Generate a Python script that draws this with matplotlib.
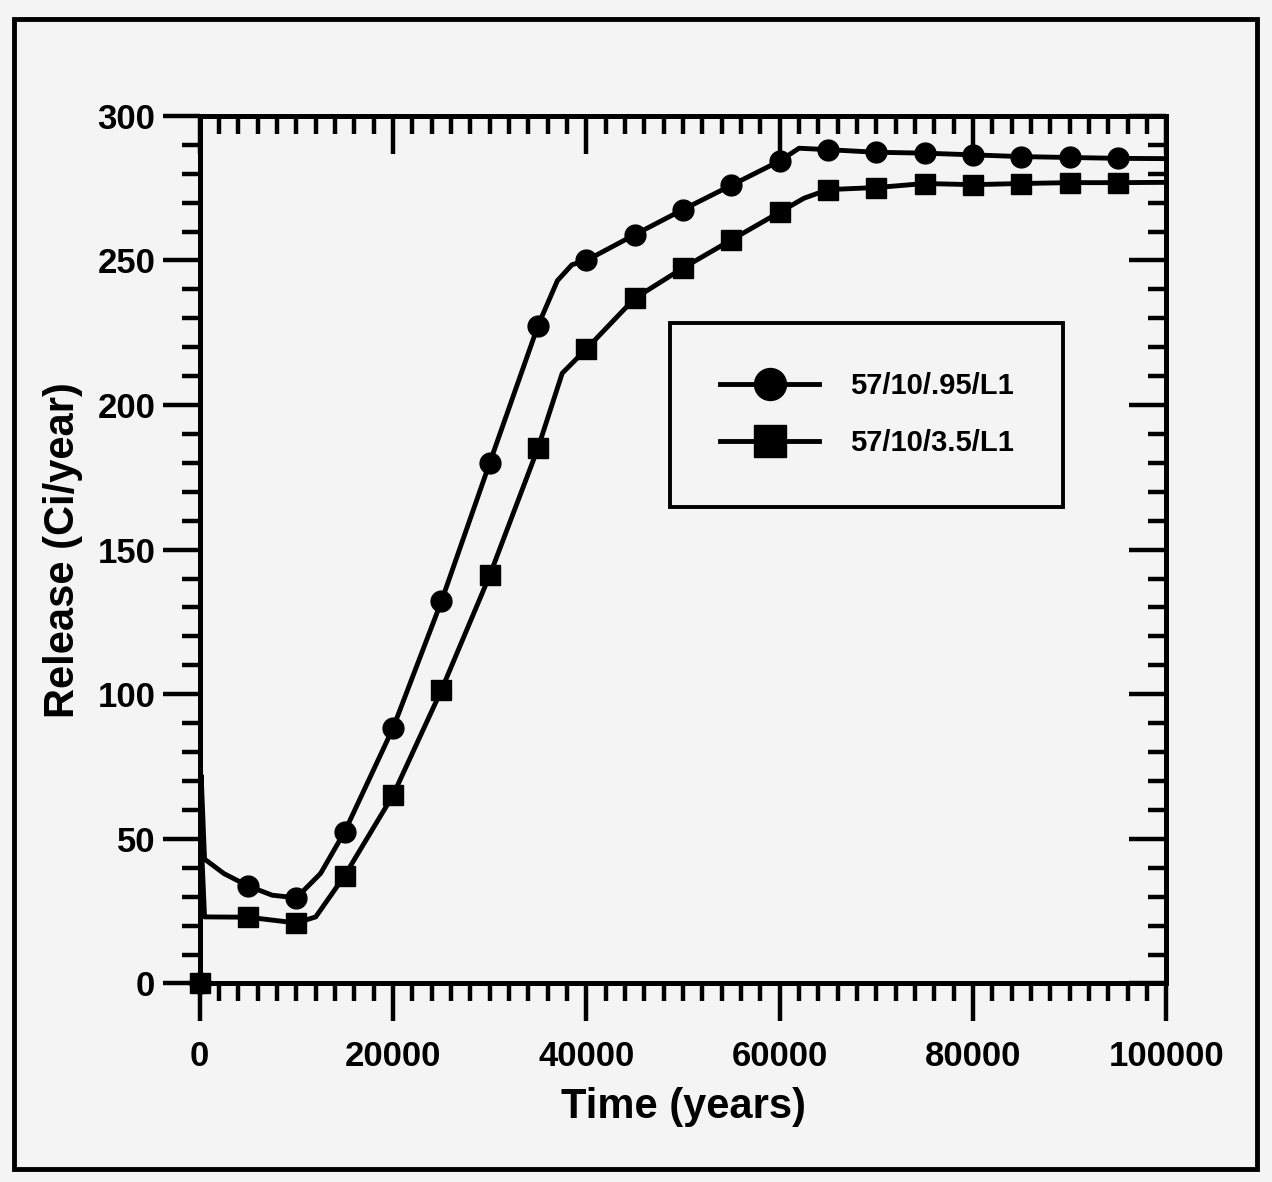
import matplotlib
matplotlib.use("Agg")
import matplotlib.pyplot as plt
from matplotlib.ticker import MultipleLocator
from matplotlib.patches import Rectangle
from matplotlib.lines import Line2D

# values
t_marks = [0, 5000, 10000, 15000, 20000, 25000, 30000, 35000, 40000, 45000,
           50000, 55000, 60000, 65000, 70000, 75000, 80000, 85000, 90000, 95000]
rel_095 = [0, 33.7, 29.6, 52.5, 88.3, 132.1, 180.0, 227.5, 250.0, 258.9,
           267.6, 276.0, 284.4, 288.3, 287.4, 287.1, 286.5, 285.9, 285.6, 285.3]
rel_35 = [0, 22.9, 20.9, 37.3, 65.1, 101.4, 141.1, 185.2, 219.4, 236.9,
          247.4, 257.1, 266.7, 274.5, 275.2, 276.6, 276.2, 276.6, 276.9, 276.9]

# the curves themselves (marker points plus a few extra points read between them)
t_line_095 = [0, 150, 500, 2500, 5000, 7500, 10000, 12500, 15000, 20000, 25000, 30000,
              35000, 37000, 38500, 40000, 45000, 50000, 55000, 60000, 62000,
              65000, 70000, 75000, 80000, 85000, 90000, 95000, 100000]
y_line_095 = [0, 72, 43, 38, 33.7, 30.5, 29.6, 38, 52.5, 88.3, 132.1, 180.0,
              227.5, 243, 248.5, 250.0, 258.9, 267.6, 276.0, 284.4, 288.8,
              288.3, 287.4, 287.1, 286.5, 285.9, 285.6, 285.3, 285.2]
t_line_35 = [0, 150, 500, 5000, 10000, 12000, 15000, 20000, 25000, 30000, 35000,
             37500, 40000, 45000, 50000, 55000, 60000, 62500, 65000, 70000,
             75000, 80000, 85000, 90000, 95000, 100000]
y_line_35 = [0, 50, 23, 22.9, 20.9, 23, 37.3, 65.1, 101.4, 141.1, 185.2,
             211, 219.4, 236.9, 247.4, 257.1, 266.7, 271.5, 274.5, 275.2,
             276.6, 276.2, 276.6, 276.9, 276.9, 277.0]

labels = ["57/10/.95/L1", "57/10/3.5/L1"]

bg = "#f4f4f4"
plt.rcParams['font.family'] = ['Liberation Sans', 'DejaVu Sans']
plt.rcParams['font.weight'] = 'bold'

fig = plt.figure(figsize=(12.72, 11.82), dpi=100, facecolor=bg)
ax = fig.add_axes([0.157, 0.168, 0.760, 0.734])
ax.set_facecolor(bg)

ax.plot(t_line_095, y_line_095, color='black', lw=3.5, solid_joinstyle='round')
ax.plot(t_line_35, y_line_35, color='black', lw=3.5, solid_joinstyle='round')
ax.plot(t_marks, rel_095, 'o', color='black', ms=15, clip_on=False, zorder=5)
ax.plot(t_marks, rel_35, 's', color='black', ms=14, clip_on=False, zorder=5)

ax.set_xlim(0, 100000)
ax.set_ylim(0, 300)
ax.xaxis.set_major_locator(MultipleLocator(20000))
ax.xaxis.set_minor_locator(MultipleLocator(2000))
ax.yaxis.set_major_locator(MultipleLocator(50))
ax.yaxis.set_minor_locator(MultipleLocator(10))
ax.tick_params(which='both', direction='out', width=3.2, labelsize=25, color='black')
ax.tick_params(axis='x', which='major', length=27, pad=14)
ax.tick_params(axis='y', which='major', length=27, pad=5)
ax.tick_params(which='minor', length=13)
for lab in ax.get_xticklabels() + ax.get_yticklabels():
    lab.set_fontweight('bold')
for s in ax.spines.values():
    s.set_linewidth(3.5)

# top and right ticks point inward
axt = ax.twiny()
axt.set_xlim(ax.get_xlim())
axt.xaxis.set_major_locator(MultipleLocator(20000))
axt.xaxis.set_minor_locator(MultipleLocator(2000))
axt.tick_params(which='both', direction='in', width=3.2, labeltop=False)
axt.tick_params(which='major', length=27)
axt.tick_params(which='minor', length=13)
axr = ax.twinx()
axr.set_ylim(ax.get_ylim())
axr.yaxis.set_major_locator(MultipleLocator(50))
axr.yaxis.set_minor_locator(MultipleLocator(10))
axr.tick_params(which='both', direction='in', width=3.2, labelright=False)
axr.tick_params(which='major', length=27)
axr.tick_params(which='minor', length=13)
for a in (axt, axr):
    for s in a.spines.values():
        s.set_linewidth(3.5)

ax.set_xlabel("Time (years)", fontsize=30, fontweight='bold', labelpad=10)
ax.set_ylabel("Release (Ci/year)", fontsize=30, fontweight='bold', labelpad=10)

# legend
h1 = Line2D([], [], color='black', lw=3.5, marker='o', ms=23)
h2 = Line2D([], [], color='black', lw=3.5, marker='s', ms=23)
leg = axr.legend([h1, h2], labels, loc='upper left',
                 bbox_to_anchor=(0.527, 0.727), bbox_transform=fig.transFigure,
                 borderaxespad=0, fancybox=False, framealpha=1, facecolor=bg,
                 edgecolor='black', prop={'size': 21, 'weight': 'bold'},
                 handlelength=3.4, handletextpad=1.05, borderpad=1.7,
                 labelspacing=1.0)
leg.get_frame().set_linewidth(2.8)

# outer frame of the scanned page
fig.patches.append(Rectangle((0.011, 0.011), 0.977, 0.973, transform=fig.transFigure,
                             fill=False, edgecolor='black', lw=3.5))

fig.savefig("out.png", dpi=100, facecolor=bg)
